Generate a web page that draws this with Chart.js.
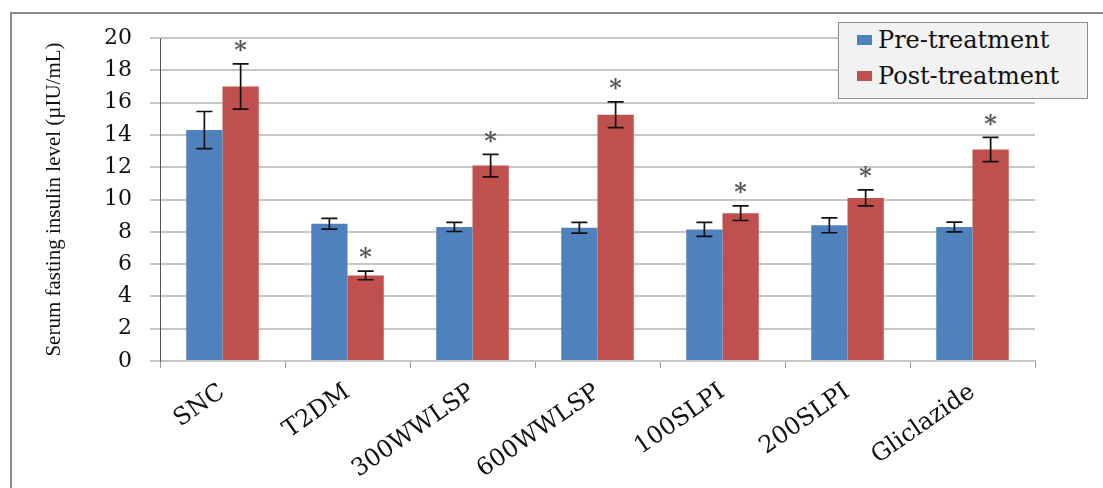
<!DOCTYPE html>
<html>
<head>
<meta charset="utf-8">
<script src="https://cdn.jsdelivr.net/npm/chart.js@4.4.1/dist/chart.umd.min.js"></script>
<style>
  html, body { margin: 0; padding: 0; background: #fff; overflow: hidden; }
  .wrap { position: relative; width: 1103px; height: 488px; overflow: hidden; }
  .frame { position: absolute; left: 10px; top: 12px; width: 1200px; height: 600px;
           border-left: 2px solid #8c8c8c; border-top: 2px solid #8c8c8c; }
  canvas { position: absolute; left: 0; top: 0; }
  .legend { position: absolute; left: 838px; top: 22px; width: 250px; height: 77px;
            background: #f2f2f2; border: 1px solid #8c8c8c; box-sizing: border-box;
            font-family: "DejaVu Serif", serif; font-size: 24px; color: #111; }
  .legend .item { position: absolute; left: 18px; display: flex; align-items: center; }
  .legend .box { width: 15px; height: 10px; margin-right: 6px; }
</style>
</head>
<body>
<div class="wrap">
  <div class="frame"></div>
  <canvas id="chart" width="1103" height="488"></canvas>
  <div class="legend" id="legend"></div>
</div>
<script>
  // Data
  const groups = ["SNC", "T2DM", "300WWLSP", "600WWLSP", "100SLPI", "200SLPI", "Gliclazide"];
  const preValues = [14.3, 8.5, 8.3, 8.25, 8.15, 8.4, 8.3];
  const postValues = [17.0, 5.3, 12.1, 15.25, 9.15, 10.1, 13.1];
  const preErrors = [1.15, 0.33, 0.28, 0.33, 0.43, 0.46, 0.3];
  const postErrors = [1.4, 0.27, 0.7, 0.8, 0.45, 0.5, 0.75];
  const postSignificant = [true, true, true, true, true, true, true];
  const yTicks = { min: 0, max: 20, step: 2 };

  const blue = "#4f81bd";
  const red = "#c0504d";

  // error bars + asterisks drawn from the bar elements
  const errorBars = {
    id: "errorBars",
    afterDatasetsDraw(chart) {
      const ctx = chart.ctx;
      const y = chart.scales.y;
      chart.data.datasets.forEach((ds, i) => {
        const meta = chart.getDatasetMeta(i);
        meta.data.forEach((bar, j) => {
          const v = ds.data[j], e = ds.errors[j];
          const top = y.getPixelForValue(v + e);
          const bot = y.getPixelForValue(v - e);
          ctx.save();
          ctx.strokeStyle = "#111";
          ctx.lineWidth = 1.7;
          ctx.beginPath();
          ctx.moveTo(bar.x, top); ctx.lineTo(bar.x, bot);
          ctx.moveTo(bar.x - 8, top); ctx.lineTo(bar.x + 8, top);
          ctx.moveTo(bar.x - 8, bot); ctx.lineTo(bar.x + 8, bot);
          ctx.stroke();
          if (ds.stars && ds.stars[j]) {
            ctx.fillStyle = "#555";
            ctx.font = "bold 24px 'DejaVu Serif'";
            ctx.textAlign = "center";
            ctx.textBaseline = "middle";
            ctx.fillText("*", bar.x, top - 12);
          }
          ctx.restore();
        });
      });
    }
  };

  const chart = new Chart(document.getElementById("chart"), {
    type: "bar",
    data: {
      labels: groups,
      datasets: [
        { label: "Pre-treatment", data: preValues, errors: preErrors, backgroundColor: blue,
          categoryPercentage: 0.58, barPercentage: 1.0 },
        { label: "Post-treatment", data: postValues, errors: postErrors, stars: postSignificant,
          backgroundColor: red, categoryPercentage: 0.58, barPercentage: 1.0 }
      ]
    },
    options: {
      responsive: false,
      animation: false,
      layout: { padding: { left: 10, top: 38, right: 68, bottom: 0 } },
      plugins: { legend: { display: false }, tooltip: { enabled: false } },
      scales: {
        x: {
          grid: { display: true, drawOnChartArea: false, tickLength: 7, color: "#9a9a9a", offset: true },
          border: { color: "#c6c6c6", width: 2 },
          ticks: { minRotation: 35, maxRotation: 35, padding: 10, color: "#111",
                   font: { family: "DejaVu Serif", size: 24 } },
          afterFit(s) { s.height = 127; }
        },
        y: {
          min: yTicks.min, max: yTicks.max,
          ticks: { stepSize: yTicks.step, padding: 18, color: "#111",
                   font: { family: "DejaVu Serif", size: 22 } },
          grid: { color: "#c6c6c6", lineWidth: 2, tickLength: 10 },
          border: { color: "#555", width: 1 },
          title: { display: true, text: "Serum fasting insulin level (µIU/mL)", color: "#111",
                   font: { family: "Liberation Serif", size: 21 }, padding: { top: 32, bottom: 0 } },
          afterFit(s) { s.width = 150; }
        }
      }
    },
    plugins: [errorBars]
  });

  // HTML legend
  const legend = document.getElementById("legend");
  chart.data.datasets.forEach((ds, i) => {
    const item = document.createElement("div");
    item.className = "item";
    item.style.top = (i === 0 ? 3 : 39) + "px";
    item.innerHTML = `<span class="box" style="background:${ds.backgroundColor}"></span><span>${ds.label}</span>`;
    legend.appendChild(item);
  });
</script>
</body>
</html>
